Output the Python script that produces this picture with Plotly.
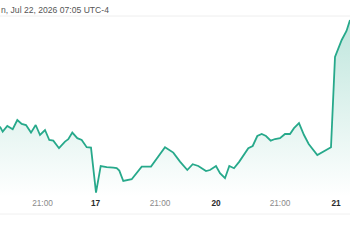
import plotly.graph_objects as go

# bar index along the (compressed, trading-hours) time axis
bar = [0, 2.7, 7.3, 12.7, 17.3, 21.7, 26, 31, 35.7, 40, 45, 49.3, 53.3, 59, 65, 68.3,
       72.3, 77.3, 81.7, 86.7, 91, 96, 100.7, 106.7, 113.3, 116.7, 119.3, 123.3, 131.7,
       136.7, 141.7, 151, 156.7, 165, 173.3, 180, 187.3, 192.7, 198.3, 206, 210, 216,
       220, 225, 229.3, 234, 239.3, 245, 248.3, 252.7, 257.3, 261.7, 266, 270.7, 275,
       280, 285, 290, 294, 299, 304, 308.7, 317.3, 331, 335, 341.7, 346.5, 350]
price = [23.67, 23.42, 23.70, 23.54, 24.00, 23.80, 23.75, 23.37, 23.75, 23.25, 23.50,
         23.00, 22.97, 22.59, 22.92, 23.04, 23.37, 23.09, 23.00, 22.64, 22.62, 20.37,
         21.70, 21.64, 21.62, 21.59, 21.47, 20.95, 21.04, 21.37, 21.67, 21.67, 22.05,
         22.64, 22.37, 21.92, 21.50, 21.79, 21.70, 21.45, 21.50, 21.70, 21.34, 21.09,
         21.70, 21.59, 21.92, 22.37, 22.59, 22.70, 23.20, 23.30, 23.20, 22.97, 23.05,
         23.09, 23.30, 23.30, 23.59, 23.84, 23.25, 22.80, 22.25, 22.64, 27.15, 28.00,
         28.45, 29.00]

tick_bars = [42.5, 95.5, 160, 216, 280, 336]
tick_labels = ["21:00", "17", "21:00", "20", "21:00", "21"]
day_labels = {"17", "20", "21"}

header = "n, Jul 22, 2026 07:05 UTC-4"

y_lo, y_hi = 20.15, 29.15
line_color = "#27a98b"

ticktext = [
    f"<span style='color:#2a2a2a'><b>{t}</b></span>" if t in day_labels else t
    for t in tick_labels
]

fig = go.Figure()
fig.add_trace(go.Scatter(
    x=bar, y=price, mode="lines",
    line=dict(color=line_color, width=1.8),
    fill="tozeroy",
    fillgradient=dict(
        type="vertical", start=y_lo, stop=y_hi,
        colorscale=[[0, "rgba(39,169,139,0.0)"], [1, "rgba(39,169,139,0.30)"]],
    ),
    hoverinfo="skip",
))

fig.update_layout(
    width=350, height=250,
    margin=dict(l=0, r=0, t=17, b=53),
    paper_bgcolor="white", plot_bgcolor="white",
    showlegend=False,
    font=dict(family="Liberation Sans, Arial, sans-serif", size=8, color="#888888"),
    xaxis=dict(
        range=[0, 350], showgrid=False, zeroline=False, showline=False,
        tickmode="array", tickvals=tick_bars, ticktext=ticktext,
        ticks="", tickfont=dict(size=8.3, color="#8a8a8a"),
        fixedrange=True,
    ),
    yaxis=dict(
        range=[y_lo, y_hi], showgrid=False, zeroline=False, showline=False,
        showticklabels=False, ticks="", fixedrange=True,
    ),
    shapes=[
        dict(type="line", xref="paper", yref="paper", x0=0, x1=1,
             y0=1 + 1 / 180, y1=1 + 1 / 180, line=dict(color="#eeeeee", width=1)),
        dict(type="line", xref="paper", yref="paper", x0=0, x1=1,
             y0=-17 / 180, y1=-17 / 180, line=dict(color="#f0f0f0", width=1)),
    ],
    annotations=[
        dict(text=header, xref="paper", yref="paper", x=-1.5 / 350, y=1 + 7 / 180,
             xanchor="left", yanchor="middle", showarrow=False,
             font=dict(size=8.6, color="#555555")),
    ],
)

fig.write_html("out.html", config={"displayModeBar": False})
